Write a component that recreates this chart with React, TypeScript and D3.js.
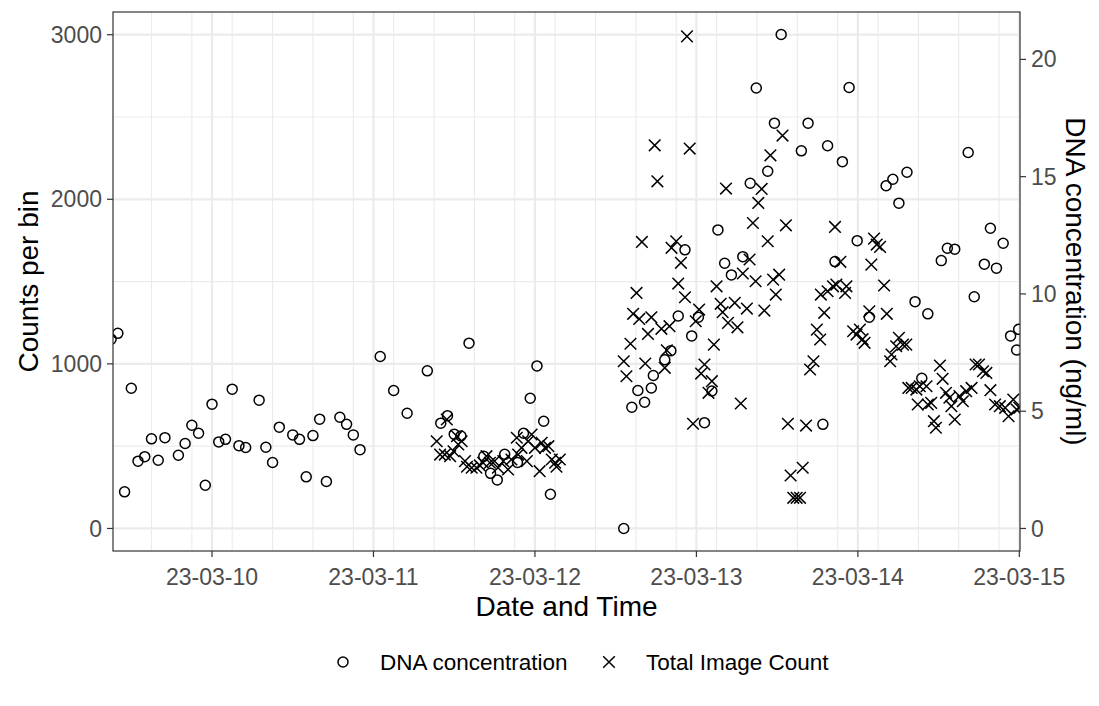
import * as d3 from "d3";

// hours after 2023-03-10 00:00 (UTC) and DNA concentration in ng/ml
const dnaHours = [
  -15, -14, -13, -12, -11, -10, -9, -8, -7, -5, -4, -3, -2, -1, 0, 1, 2, 3, 4, 5, 7, 8, 9, 10, 12, 13, 14,
  15, 16, 17, 19, 20, 21, 22, 25, 27, 29, 32, 34, 35, 36, 37, 38.2, 40.4, 41.4, 42.4, 43.5, 45.4, 46.3,
  47.3, 48.3, 49.3, 50.3, 61.2, 62.4, 63.3, 64.3, 65.3, 65.6, 67.3, 68.2, 69.3, 70.3, 71.3, 72.3, 73.2,
  74.3, 75.2, 76.2, 77.2, 78.9, 80.0, 80.9, 82.6, 83.6, 84.6, 87.6, 88.6, 90.8, 91.5, 92.6, 93.7, 94.7,
  95.9, 97.7, 100.2, 101.2, 102.1, 103.3, 104.5, 105.5, 106.4, 108.4, 109.3, 110.4, 112.4, 113.3, 114.8,
  115.7, 116.6, 117.6, 118.7, 119.6, 119.9,
];
const dnaValues = [
  8.07, 8.32, 1.56, 5.98, 2.87, 3.06, 3.82, 2.91, 3.87, 3.12, 3.62, 4.4, 4.06, 1.84, 5.3, 3.69, 3.8, 5.94,
  3.53, 3.45, 5.47, 3.46, 2.81, 4.32, 3.99, 3.8, 2.2, 3.96, 4.66, 2.0, 4.74, 4.44, 3.99, 3.36, 7.33, 5.88,
  4.91, 6.72, 4.49, 4.81, 4.02, 3.94, 7.9, 3.08, 2.35, 2.07, 3.16, 2.81, 4.06, 5.55, 6.93, 4.57, 1.46, 0.0,
  5.17, 5.88, 5.38, 5.99, 6.52, 7.19, 7.58, 9.06, 11.88, 8.21, 9.01, 4.51, 5.86, 12.73, 11.31, 10.81, 11.59,
  14.72, 18.78, 15.23, 17.28, 21.06, 16.1, 17.28, 4.44, 16.32, 11.38, 15.64, 18.8, 12.27, 9.01, 14.61,
  14.89, 13.87, 15.19, 9.67, 6.4, 9.15, 11.42, 11.95, 11.91, 16.03, 9.88, 11.27, 12.8, 11.1, 12.16, 8.21,
  7.61, 8.49,
];

// hours after 2023-03-10 00:00 (UTC) and total image count per bin
const imageHours = [
  33.4, 33.9, 34.6, 34.9, 35.4, 35.9, 36.4, 36.6, 37.1, 37.6, 37.9, 38.6, 39.3, 39.8, 40.3, 40.8, 41.3, 42.0,
  42.5, 43.3, 44.0, 44.5, 45.3, 45.5, 46.0, 46.8, 47.0, 47.5, 48.0, 48.7, 49.0, 49.5, 50.0, 50.5, 51.0, 51.2,
  51.7,
  61.2, 61.6, 62.2, 62.6, 63.1, 63.5, 63.9, 64.4, 64.8, 65.3, 65.8, 66.2, 66.8, 67.3, 67.6, 68.0, 68.3, 69.0,
  69.3, 69.7, 70.3, 70.6, 71.0, 71.5, 71.9, 72.4, 72.7, 73.2, 73.8, 74.3, 74.6, 75.0, 75.6, 75.9, 76.4, 76.7,
  77.7, 78.1, 78.6, 78.9, 79.5, 79.9, 80.4, 80.8, 81.2, 81.7, 82.1, 82.6, 83.0, 83.4, 83.8, 84.3, 84.8, 85.3,
  85.6, 86.0, 86.4, 86.9, 87.4, 87.8, 88.3, 88.9, 89.4, 89.9, 90.4, 90.5, 91.0, 91.5,
  92.3, 92.6, 92.8, 93.4, 94.1, 94.3, 95.3, 95.8, 96.3, 96.7, 97.0, 97.7, 98.0, 98.4, 98.8, 99.3, 99.9,
  100.3, 100.8, 101.0, 101.7, 102.1, 102.7, 103.2, 103.5, 104.0, 104.7, 104.9, 105.2, 106.2, 106.4, 106.9,
  107.3, 107.6, 108.2, 108.6, 109.1, 109.6, 109.9, 110.4, 111.1, 111.6, 112.1, 112.9, 113.5, 114.0, 114.6,
  115.1, 115.7, 116.4, 117.1, 117.9, 118.4, 119.1, 119.6, 120.0,
];
const imageCounts = [
  530, 449, 449, 662, 439, 469, 560, 510, 530, 409, 375, 369, 369, 383, 399, 439, 399, 409, 369, 409, 358,
  419, 551, 449, 490, 409, 530, 571, 490, 348, 520, 490, 500, 419, 399, 375, 419,
  1016, 925, 1122, 1304, 1431, 1273, 1741, 1002, 1182, 1283, 2328, 2109, 1213, 976, 1083, 1229, 1705, 1745,
  1488, 1614, 1405, 2990, 2308, 636, 1259, 1330, 941, 996, 824, 895, 1117, 1471, 1365, 1314, 2065, 1249,
  1371, 1222, 759, 1549, 1336, 1634, 1856, 1502, 1978, 2063, 1324, 1745, 2267, 1512, 1421, 1542, 2387, 1842,
  636, 322, 186, 186, 186, 369, 625, 966, 1016, 1208, 1148, 1421, 1310, 1441,
  1471, 1832, 1482, 1620, 1431, 1471, 1198, 1178, 1208, 1150, 1128, 1320, 1603, 1761, 1725, 1711, 1476,
  1304, 1016, 1057, 1107, 1158, 1117, 1117, 854, 854, 844, 753, 864, 864, 753, 763, 652, 612, 990, 909, 824,
  794, 743, 662, 804, 773, 834, 854, 996, 996, 955, 945, 840, 753, 743, 733, 682, 783, 723, 733,
];

const countTicks = [0, 1000, 2000, 3000];
const countMinor = [500, 1500, 2500];
const dnaTicks = [0, 5, 10, 15, 20];
const legendLabels = ["DNA concentration", "Total Image Count"];

const base = Date.UTC(2023, 2, 10);
const hourMs = 3600 * 1000;
const toDate = (h: number) => new Date(base + h * hourMs);
const dnaFactor = 142.5; // counts per ng/ml on the secondary axis

const W = 1099;
const H = 706;
const P = { left: 113, right: 1020, top: 12, bottom: 551 };
const font = "'Liberation Sans', Arial, Helvetica, sans-serif";
const tickSize = 23;
const titleSize = 28;

export default function App() {
  const x = d3.scaleUtc().domain([toDate(-14.72), toDate(120.1)]).range([P.left, P.right]);
  const y = d3.scaleLinear().domain([-137, 3138]).range([P.bottom, P.top]);
  const yR = d3
    .scaleLinear()
    .domain(y.domain().map((v) => v / dnaFactor))
    .range([P.bottom, P.top]);

  const [d0, d1] = x.domain();
  const dayTicks = d3.utcDay.range(d3.utcDay.ceil(d0), d1);
  const minorX = d3.utcHour.range(d0, d1).filter((d) => d.getUTCHours() % 6 === 3);
  const fmt = d3.utcFormat("%y-%m-%d");

  const cross = (cx: number, cy: number, s = 5.8) =>
    `M${cx - s},${cy - s}L${cx + s},${cy + s}M${cx - s},${cy + s}L${cx + s},${cy - s}`;

  const dna = dnaHours.map((h, i) => ({ t: toDate(h), v: dnaValues[i] }));
  const img = imageHours.map((h, i) => ({ t: toDate(h), v: imageCounts[i] }));

  return (
    <svg
      width={W}
      height={H}
      style={{ position: "absolute", left: 0, top: 0, background: "#fff" }}
      fontFamily={font}
    >
      <defs>
        <clipPath id="panel">
          <rect x={P.left} y={P.top} width={P.right - P.left} height={P.bottom - P.top} />
        </clipPath>
      </defs>
      <rect x={P.left} y={P.top} width={P.right - P.left} height={P.bottom - P.top} fill="#fff" />
      {/* grid */}
      {minorX.map((d, i) => (
        <line key={"mx" + i} x1={x(d)} x2={x(d)} y1={P.top} y2={P.bottom} stroke="#EBEBEB" strokeWidth={1.1} />
      ))}
      {countMinor.map((v) => (
        <line key={"my" + v} x1={P.left} x2={P.right} y1={y(v)} y2={y(v)} stroke="#EBEBEB" strokeWidth={1.1} />
      ))}
      {dayTicks.map((d, i) => (
        <line key={"gx" + i} x1={x(d)} x2={x(d)} y1={P.top} y2={P.bottom} stroke="#EBEBEB" strokeWidth={2.2} />
      ))}
      {countTicks.map((v) => (
        <line key={"gy" + v} x1={P.left} x2={P.right} y1={y(v)} y2={y(v)} stroke="#EBEBEB" strokeWidth={2.2} />
      ))}

      {/* points */}
      <g clipPath="url(#panel)">
        {dna.map((d, i) => (
          <circle key={"c" + i} cx={x(d.t)} cy={yR(d.v)} r={5} fill="none" stroke="#000" strokeWidth={1.5} />
        ))}
        {img.map((d, i) => (
          <path key={"x" + i} d={cross(x(d.t), y(d.v))} fill="none" stroke="#000" strokeWidth={1.5} />
        ))}
      </g>

      <rect
        x={P.left}
        y={P.top}
        width={P.right - P.left}
        height={P.bottom - P.top}
        fill="none"
        stroke="#333333"
        strokeWidth={1.2}
      />

      {/* left axis */}
      {countTicks.map((v) => (
        <g key={"ly" + v}>
          <line x1={P.left - 6} x2={P.left} y1={y(v)} y2={y(v)} stroke="#333333" strokeWidth={1.2} />
          <text x={P.left - 11} y={y(v)} dy="0.35em" textAnchor="end" fontSize={tickSize} fill="#4D4D4D">
            {v}
          </text>
        </g>
      ))}
      {/* right axis */}
      {dnaTicks.map((v) => (
        <g key={"ry" + v}>
          <line x1={P.right} x2={P.right + 6} y1={yR(v)} y2={yR(v)} stroke="#333333" strokeWidth={1.2} />
          <text x={P.right + 11} y={yR(v)} dy="0.35em" textAnchor="start" fontSize={tickSize} fill="#4D4D4D">
            {v}
          </text>
        </g>
      ))}
      {/* bottom axis */}
      {dayTicks.map((d, i) => (
        <g key={"bx" + i}>
          <line x1={x(d)} x2={x(d)} y1={P.bottom} y2={P.bottom + 6} stroke="#333333" strokeWidth={1.2} />
          <text x={x(d)} y={P.bottom + 26} dy="0.35em" textAnchor="middle" fontSize={tickSize} fill="#4D4D4D">
            {fmt(d)}
          </text>
        </g>
      ))}

      {/* titles */}
      <text x={(P.left + P.right) / 2} y={606} dy="0.35em" textAnchor="middle" fontSize={titleSize} fill="#000">
        Date and Time
      </text>
      <text
        transform={`translate(28,${(P.top + P.bottom) / 2}) rotate(-90)`}
        dy="0.35em"
        textAnchor="middle"
        fontSize={titleSize}
        fill="#000"
      >
        Counts per bin
      </text>
      <text
        transform={`translate(1076,${(P.top + P.bottom) / 2}) rotate(90)`}
        dy="0.35em"
        textAnchor="middle"
        fontSize={titleSize}
        fill="#000"
      >
        DNA concentration (ng/ml)
      </text>

      {/* legend */}
      <g>
        <circle cx={343} cy={662} r={5} fill="none" stroke="#000" strokeWidth={1.5} />
        <text x={380} y={662} dy="0.35em" fontSize={22.5} fill="#000">
          {legendLabels[0]}
        </text>
        <path d={cross(609, 662)} fill="none" stroke="#000" strokeWidth={1.5} />
        <text x={646} y={662} dy="0.35em" fontSize={22.5} fill="#000">
          {legendLabels[1]}
        </text>
      </g>
    </svg>
  );
}
